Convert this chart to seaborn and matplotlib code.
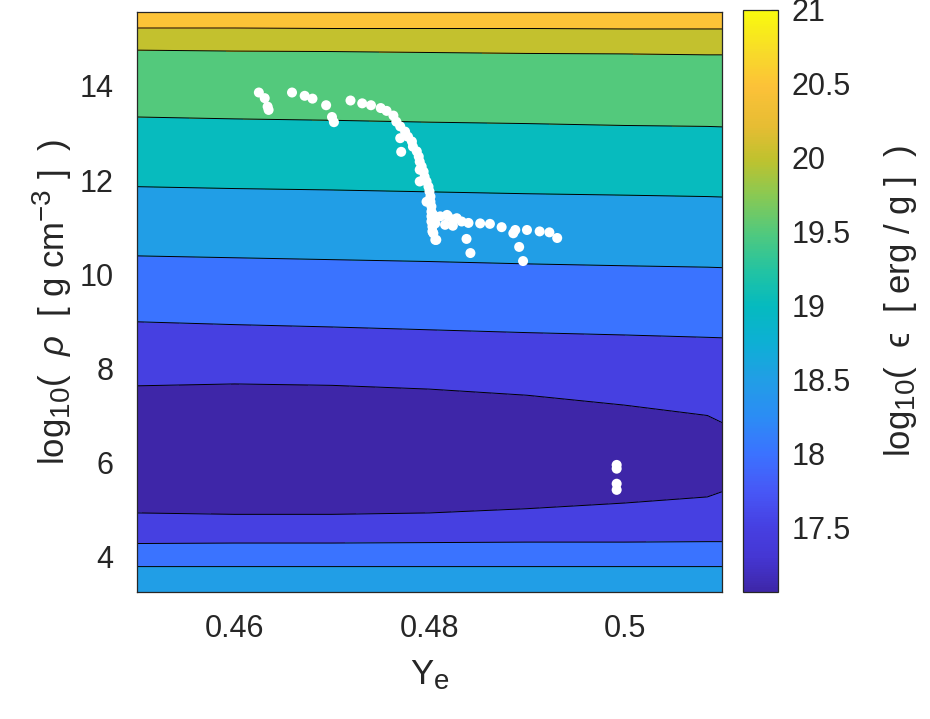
import numpy as np
import matplotlib
matplotlib.use("Agg")
import matplotlib.pyplot as plt
import matplotlib._mathtext as _mt
import seaborn as sns
import pandas as pd
from matplotlib.colors import LinearSegmentedColormap, Normalize
from matplotlib.cm import ScalarMappable

# ---------------- data ----------------
# grid columns (Ye)
ye_grid = [0.45, 0.46, 0.47, 0.48, 0.49, 0.50, 0.5085, 0.51]
# log10(rho) node heights per row (bottom -> top), one value per column
rho_grid = [
    [3.25, 3.25, 3.25, 3.25, 3.25, 3.25, 3.25, 3.25],
    [3.79, 3.79, 3.79, 3.79, 3.79, 3.79, 3.79, 3.79],
    [4.28, 4.29, 4.29, 4.30, 4.31, 4.31, 4.32, 4.32],
    [4.93, 4.90, 4.90, 4.93, 5.02, 5.14, 5.27, 5.38],
    [6.20, 6.20, 6.20, 6.20, 6.20, 6.20, 6.15, 6.10],
    [7.63, 7.67, 7.64, 7.56, 7.43, 7.22, 7.00, 6.85],
    [8.99, 8.93, 8.88, 8.82, 8.76, 8.71, 8.66, 8.65],
    [10.39, 10.35, 10.31, 10.27, 10.22, 10.18, 10.15, 10.14],
    [11.86, 11.82, 11.79, 11.75, 11.71, 11.68, 11.65, 11.64],
    [13.34, 13.30, 13.27, 13.23, 13.20, 13.16, 13.14, 13.13],
    [14.76, 14.74, 14.73, 14.71, 14.69, 14.68, 14.66, 14.66],
    [15.23, 15.23, 15.22, 15.22, 15.22, 15.21, 15.21, 15.21],
    [15.57, 15.57, 15.57, 15.57, 15.57, 15.57, 15.57, 15.57],
]
# log10(eps) values at the nodes
eps_grid = [
    [18.8] * 8,
    [18.5] * 8,
    [18.0] * 8,
    [17.5] * 8,
    [17.06, 17.06, 17.08, 17.10, 17.15, 17.25, 17.35, 17.45],
    [17.5] * 8,
    [18.0] * 8,
    [18.5] * 8,
    [19.0] * 8,
    [19.5] * 8,
    [20.0] * 8,
    [20.5] * 8,
    [20.8] * 8,
]
contour_levels = [17.5, 18.0, 18.5, 19.0, 19.5, 20.0, 20.5, 21.0]
cbar_ticks = [17.5, 18, 18.5, 19, 19.5, 20, 20.5, 21]
cbar_ticklabels = ["17.5", "18", "18.5", "19", "19.5", "20", "20.5", "21"]
x_ticks = [0.46, 0.48, 0.50]
x_ticklabels = ["0.46", "0.48", "0.5"]
y_ticks = [4, 6, 8, 10, 12, 14]
y_ticklabels = ["4", "6", "8", "10", "12", "14"]

# scatter points (white dots)
ye_pts = [0.4625, 0.4631, 0.4634, 0.4635, 0.4659, 0.4672, 0.4680, 0.4694, 0.4700, 0.4702,
          0.4719, 0.4731, 0.4740, 0.4750, 0.4756, 0.4763, 0.4766, 0.4770, 0.4775, 0.4778,
          0.4782, 0.4783, 0.4787, 0.4789, 0.4790, 0.4792, 0.4794, 0.4795, 0.4797, 0.4799,
          0.4800, 0.4801, 0.4801, 0.4802, 0.4802, 0.4802, 0.4802, 0.4803, 0.4803, 0.4806,
          0.4770, 0.4771, 0.4790, 0.4790, 0.4797, 0.4804, 0.4806, 0.4804, 0.4807, 0.4811,
          0.4818, 0.4816, 0.4819, 0.4824, 0.4828, 0.4824, 0.4833, 0.4840, 0.4852, 0.4862,
          0.4874, 0.4888, 0.4886, 0.4900, 0.4913, 0.4923, 0.4931, 0.4838, 0.4842, 0.4892,
          0.4896, 0.4992, 0.4992, 0.4992, 0.4992]
rho_pts = [13.86, 13.74, 13.56, 13.49, 13.86, 13.79, 13.73, 13.59, 13.34, 13.23,
           13.69, 13.63, 13.59, 13.53, 13.47, 13.37, 13.24, 13.14, 13.03, 12.92,
           12.82, 12.71, 12.61, 12.50, 12.39, 12.29, 12.18, 12.07, 11.97, 11.86,
           11.76, 11.65, 11.54, 11.44, 11.33, 11.23, 11.12, 11.01, 10.91, 10.73,
           12.89, 12.60, 12.22, 11.97, 11.54, 11.26, 11.08, 10.87, 10.73, 11.23,
           11.26, 11.05, 11.23, 11.16, 11.19, 11.03, 11.12, 11.09, 11.08, 11.07,
           11.00, 10.94, 10.87, 10.94, 10.91, 10.89, 10.77, 10.75, 10.45, 10.58,
           10.28, 5.95, 5.87, 5.55, 5.42]

# ---------------- style ----------------
sns.set_style("white")
plt.rcParams["font.family"] = ["Liberation Sans", "DejaVu Sans"]
plt.rcParams["mathtext.fontset"] = "custom"
plt.rcParams["mathtext.rm"] = "Liberation Sans"
plt.rcParams["mathtext.it"] = "Liberation Sans:italic"
plt.rcParams["mathtext.sf"] = "Liberation Sans"
_mt.SHRINK_FACTOR = 0.8  # larger sub/superscripts, as in the reference

parula = LinearSegmentedColormap.from_list("parula", [
    (0.000, (0.2422, 0.1504, 0.6603)),
    (0.060, (0.2700, 0.2150, 0.8300)),
    (0.111, (0.2750, 0.2500, 0.8850)),
    (0.170, (0.2800, 0.3400, 0.9650)),
    (0.238, (0.2300, 0.4500, 1.0000)),
    (0.300, (0.1700, 0.5500, 0.9600)),
    (0.365, (0.1300, 0.6200, 0.9000)),
    (0.430, (0.0500, 0.6900, 0.8300)),
    (0.491, (0.0200, 0.7300, 0.7500)),
    (0.550, (0.1300, 0.7650, 0.6400)),
    (0.618, (0.3200, 0.7900, 0.4900)),
    (0.680, (0.5300, 0.7900, 0.3300)),
    (0.744, (0.7500, 0.7600, 0.1800)),
    (0.800, (0.9000, 0.7400, 0.2000)),
    (0.871, (0.9900, 0.7600, 0.2200)),
    (0.930, (0.9700, 0.8600, 0.1600)),
    (1.000, (0.9763, 0.9831, 0.0538)),
])
vmin, vmax = 17.06, 21.0
norm = Normalize(vmin=vmin, vmax=vmax)

fig = plt.figure(figsize=(9.3, 7.19), dpi=100)
ax = fig.add_axes([0.1473, 0.1766, 0.6290, 0.8067])
cax = fig.add_axes([0.799, 0.1766, 0.0376, 0.8095])

X = np.tile(np.array(ye_grid), (len(rho_grid), 1))
Y = np.array(rho_grid)
Z = np.array(eps_grid)

fill_levels = [17.0] + contour_levels
band_colors = [parula(norm(v)) for v in [vmin] + contour_levels[:-1]]
ax.contourf(X, Y, Z, levels=fill_levels, colors=band_colors)
ax.contour(X, Y, Z, levels=contour_levels[:-1], colors="black", linewidths=0.7)

df = pd.DataFrame({"Ye": ye_pts, "rho": rho_pts})
sns.scatterplot(data=df, x="Ye", y="rho", ax=ax, color="white", s=52,
                edgecolor="none", linewidth=0, zorder=5)

ax.set_xlim(0.45, 0.51)
ax.set_ylim(3.25, 15.57)
ax.set_xticks(x_ticks)
ax.set_xticklabels(x_ticklabels)
ax.set_yticks(y_ticks)
ax.set_yticklabels(y_ticklabels)
ax.tick_params(axis="x", pad=16)
ax.tick_params(axis="y", pad=17)
ax.tick_params(axis="both", direction="in", length=5, width=0.8, color="#262626",
               labelsize=22, labelcolor="#262626", top=True, right=True)
ax.set_xlabel(r"Y$_\mathrm{e}$", fontsize=25, color="#262626", labelpad=10)
ax.set_ylabel(r"log$_{10}$(  $\rho$  [ g cm$^{-3}$ ]  )", fontsize=25, color="#262626", labelpad=4)
for sp in ax.spines.values():
    sp.set_color("#262626")
    sp.set_linewidth(0.9)

cb = fig.colorbar(ScalarMappable(norm=norm, cmap=parula), cax=cax)
cb.set_ticks(cbar_ticks)
cb.set_ticklabels(cbar_ticklabels)
cax.tick_params(direction="in", length=5, width=0.8, color="#262626",
                labelsize=22, labelcolor="#262626", pad=10)
cb.outline.set_edgecolor("#262626")
cb.outline.set_linewidth(0.9)
cb.set_label("log$_{10}$(  \u03f5  [ erg / g ]  )", fontsize=25, color="#262626", labelpad=22)

fig.savefig("out.png", dpi=100)
